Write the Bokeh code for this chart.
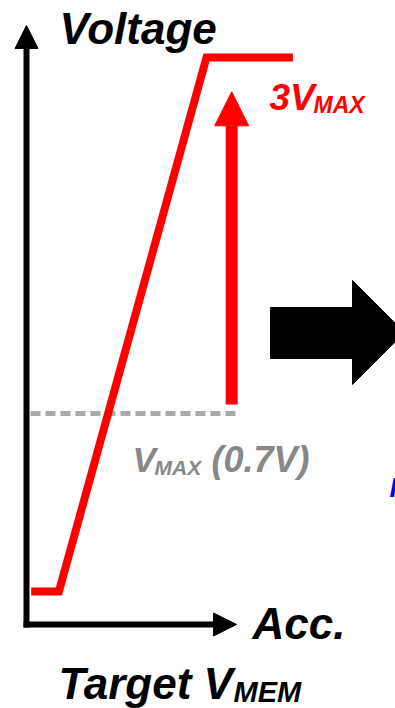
from bokeh.plotting import figure
from bokeh.models import Range1d, Arrow, NormalHead, Label
from bokeh.embed import file_html
from bokeh.resources import INLINE

W, H = 395, 708

# Target membrane voltage ramp versus accumulation
acc = [0.13, 0.9, 5.0, 7.4]
voltage = [0.0, 0.0, 2.1, 2.1]

v_max = 0.7            # V_MAX
v_boost = 3 * v_max    # 3 V_MAX
dash_acc = [0.11, 5.9]
boost_acc = 5.7

# canvas scale: 36 px per acc unit (origin x=26), 254.3 px per volt (0 V at y=591)
X0, SX = 26, 36.0
Y0, SY = 591, 254.3


def px(x):
    return (x - X0) / SX


def py(y):
    return (Y0 - y) / SY


FONT = "Liberation Sans"
RED = "#ff0000"
GREY = "#888888"

p = figure(width=W, height=H, output_backend="svg", toolbar_location=None,
           x_range=Range1d(px(0), px(W)), y_range=Range1d(py(H), py(0)),
           x_axis_type=None, y_axis_type=None, min_border=0,
           outline_line_color=None, background_fill_color="white",
           border_fill_color="white")
p.grid.visible = False

# axes drawn as arrows
p.add_layout(Arrow(x_start=px(26), y_start=py(627), x_end=px(26), y_end=py(25),
                   line_width=6, line_color="black",
                   end=NormalHead(size=23, fill_color="black", line_color="black", line_width=1)))
p.add_layout(Arrow(x_start=px(23), y_start=py(624), x_end=px(236), y_end=py(624),
                   line_width=6, line_color="black",
                   end=NormalHead(size=23, fill_color="black", line_color="black", line_width=1)))

# V_MAX reference level
p.line(dash_acc, [v_max, v_max], line_color="#aaaaaa", line_width=5, line_dash="10 5")

# voltage ramp
p.line(acc, voltage, line_color=RED, line_width=8, line_join="miter")

# boost arrow from V_MAX towards 3 V_MAX
p.add_layout(Arrow(x_start=boost_acc, y_start=v_max + 0.035,
                   x_end=boost_acc, y_end=v_boost - 0.135,
                   line_width=12, line_color=RED,
                   end=NormalHead(size=34, fill_color=RED, line_color=RED, line_width=1)))

# block arrow on the right
bx = [270, 352, 352, 404, 352, 352, 270]
by = [307, 307, 280, 332, 384, 358, 358]
p.patch([px(v) for v in bx], [py(v) for v in by], fill_color="black", line_color="black")


def label(x, y, text, size, color="black"):
    # y is the baseline; the renderer sits text a little low, so lift it
    p.add_layout(Label(x=px(x), y=py(y - 0.36 * size), text=text, text_font=FONT,
                       text_font_style="bold italic", text_font_size=f"{size}px",
                       text_color=color, text_align="left", text_baseline="alphabetic"))


label(59, 44, "Voltage", 44)
label(269, 110, "3V", 37, RED)
label(313, 113, "MAX", 23, RED)
label(132, 472, "V", 35, GREY)
label(154, 475, "MAX", 21, GREY)
label(211, 472, "(0.7V)", 36, GREY)
label(252, 639, "Acc.", 44)
label(58, 699, "Target V", 44)
label(233, 702, "MEM", 29)
label(389, 497, "I", 27, "#0000ff")

open("out.html", "w").write(file_html(p, INLINE))
